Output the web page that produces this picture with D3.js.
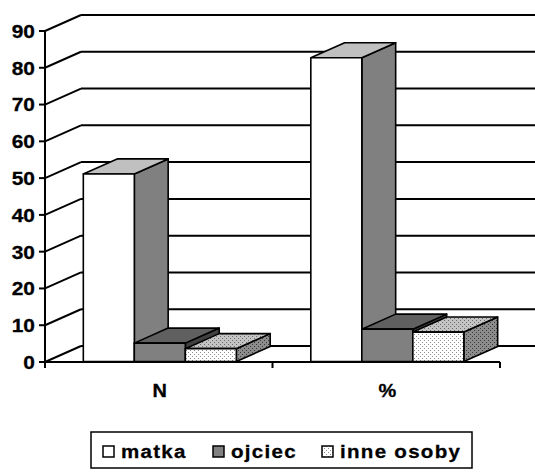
<!DOCTYPE html>
<html>
<head>
<meta charset="utf-8">
<script src="https://cdn.jsdelivr.net/npm/d3@7"></script>
<style>
  html, body { margin: 0; padding: 0; background: #fff; }
  svg { display: block; }
  text { font-family: "Liberation Sans", Arial, sans-serif; font-weight: bold; fill: #000;
         stroke: #000; stroke-width: 0.3; }
</style>
</head>
<body>
<svg id="chart" width="535" height="472"></svg>
<script>
// Categories, series and values
const categories = ["N", "%"];
const series = ["matka", "ojciec", "inne osoby"];
const valuesN = [51, 5, 3.5];
const valuesPct = [82.6, 8.8, 8];
const yTicks = [0, 10, 20, 30, 40, 50, 60, 70, 80, 90];

const data = categories.map((c, i) => ({
  category: c,
  values: (i === 0 ? valuesN : valuesPct).map((v, j) => ({ series: series[j], value: v }))
}));

const svg = d3.select("#chart");
const defs = svg.append("defs");

// Dotted fills for the third series
function dots(id, bg, dot) {
  const p = defs.append("pattern").attr("id", id)
    .attr("width", 4).attr("height", 4).attr("patternUnits", "userSpaceOnUse");
  p.append("rect").attr("width", 4).attr("height", 4).attr("fill", bg);
  p.append("rect").attr("x", 0).attr("y", 0).attr("width", 1).attr("height", 1).attr("fill", dot);
  p.append("rect").attr("x", 2).attr("y", 2).attr("width", 1).attr("height", 1).attr("fill", dot);
}
dots("dotFront", "#ffffff", "#8a8a8a");
dots("dotTop", "#c4c4c4", "#6a6a6a");
dots("dotSide", "#8c8c8c", "#3a3a3a");

const faces = {
  "matka":      { front: "#ffffff", top: "#c0c0c0", side: "#808080" },
  "ojciec":     { front: "#808080", top: "#606060", side: "#404040" },
  "inne osoby": { front: "url(#dotFront)", top: "url(#dotTop)", side: "url(#dotSide)" }
};
const legendSwatch = { "matka": "#ffffff", "ojciec": "#808080", "inne osoby": "url(#dotFront)" };

// Plot frame: front plane and depth offset of the 3D box
const plotLeft = 45, plotRight = 500, plotBottom = 362, plotTop = 31;
const depth = { dx: 36, dy: -16 };
const barFront = 0.03, barBack = 0.97;

const y = d3.scaleLinear().domain([0, 90]).range([plotBottom, plotTop]);
const x0 = d3.scaleBand().domain(categories).range([plotLeft, plotRight]).paddingInner(0).paddingOuter(0);
const x1 = d3.scaleBand().domain(series).range([0, x0.bandwidth()]).paddingInner(0).paddingOuter(0.73);

const line = (g, xa, ya, xb, yb, w) => g.append("line")
  .attr("x1", xa).attr("y1", ya).attr("x2", xb).attr("y2", yb)
  .attr("stroke", "#000").attr("stroke-width", w || 2);

// Wide bold label helper (text stretched horizontally)
const label = (g, x, yy, str, opts) => g.append("text")
  .attr("transform", `translate(${x},${yy}) scale(${opts.sx || 1.1},1)`)
  .attr("dy", "0.36em")
  .attr("text-anchor", opts.anchor || "start")
  .attr("font-size", opts.size || 19)
  .attr("letter-spacing", opts.ls || 0)
  .text(str);

// Walls: back-wall gridlines and side-wall diagonals
const walls = svg.append("g");
yTicks.forEach(t => {
  const yy = y(t);
  line(walls, plotLeft + depth.dx, yy + depth.dy, 540, yy + depth.dy, 2);
  line(walls, plotLeft, yy, plotLeft + depth.dx, yy + depth.dy, 2);
});

// Bars as boxes (front, top, right side)
const barsG = svg.append("g");
data.forEach(d => {
  d.values.forEach(s => {
    const xa = x0(d.category) + x1(s.series);
    const xb = xa + x1.bandwidth();
    const f = { dx: depth.dx * barFront, dy: depth.dy * barFront };
    const b = { dx: depth.dx * barBack, dy: depth.dy * barBack };
    const y0 = y(0), yv = y(s.value);
    const P = (px, py, o) => [px + o.dx, py + o.dy];
    const poly = (pts, fill) => barsG.append("polygon")
      .attr("points", pts.map(p => p.join(",")).join(" "))
      .attr("fill", fill).attr("stroke", "#000").attr("stroke-width", 1.6)
      .attr("stroke-linejoin", "round");
    const c = faces[s.series];
    poly([P(xb, yv, f), P(xb, yv, b), P(xb, y0, b), P(xb, y0, f)], c.side);
    poly([P(xa, yv, f), P(xa, yv, b), P(xb, yv, b), P(xb, yv, f)], c.top);
    poly([P(xa, yv, f), P(xb, yv, f), P(xb, y0, f), P(xa, y0, f)], c.front);
  });
});

// Axes
const axes = svg.append("g");
line(axes, plotLeft, plotTop, plotLeft, plotBottom, 2);
line(axes, plotLeft, plotBottom, plotRight, plotBottom, 2);
yTicks.forEach(t => {
  line(axes, plotLeft - 6, y(t), plotLeft, y(t), 2);
  label(axes, 35, y(t), t, { anchor: "end", size: 19, sx: 1.1 });
});
[plotLeft, plotLeft + x0.bandwidth(), plotRight].forEach(xx => line(axes, xx, plotBottom, xx, plotBottom + 6, 2));
categories.forEach(cat => {
  label(axes, x0(cat) + x0.bandwidth() / 2 + 1, 390, cat, { anchor: "middle", size: 19, sx: 1.05 });
});

// Legend
const lg = svg.append("g");
lg.append("rect").attr("x", 91).attr("y", 432).attr("width", 381).attr("height", 36)
  .attr("fill", "#fff").attr("stroke", "#000").attr("stroke-width", 1.5);
const legendX = [103, 213, 322];
series.forEach((s, i) => {
  lg.append("rect").attr("x", legendX[i]).attr("y", 446).attr("width", 11).attr("height", 11)
    .attr("fill", legendSwatch[s]).attr("stroke", "#000").attr("stroke-width", 1.5);
  label(lg, legendX[i] + 18, 451.5, s, { size: 19, sx: 1.08, ls: 1.2 });
});
</script>
</body>
</html>
